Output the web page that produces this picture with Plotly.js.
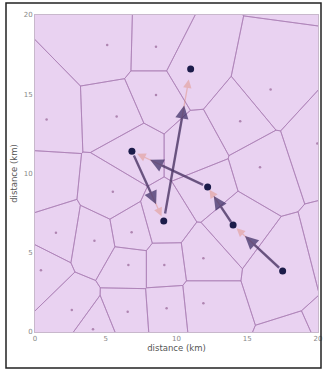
<!DOCTYPE html>
<html><head><meta charset="utf-8">
<script src="https://cdn.plot.ly/plotly-3.0.1.min.js"></script>
<style>html,body{margin:0;padding:0;background:#fff}#c{width:323px;height:370px}</style>
</head><body><div id="c"></div>
<script>
// Visible Voronoi seeds (small dots)
var seedX = [5.1, 8.55, 8.55, 5.77, 0.82, 16.65, 14.5, 19.95, 15.9, 5.5, 1.48, 4.2, 6.83, 0.42, 6.6, 9.14, 11.9, 2.6, 6.55, 9.3, 11.9, 4.1];
var seedY = [18.1, 18.0, 14.95, 13.6, 13.4, 15.3, 13.3, 11.9, 10.4, 8.85, 6.26, 5.76, 6.29, 3.9, 4.23, 4.23, 4.65, 1.39, 1.28, 1.5, 1.81, 0.17];
// Seeds hidden under arrows or outside the view
var hiddenX = [11.4, 0.6, 17.7, 21.5, 21.0, 19.0];
var hiddenY = [11.4, 9.4, 24.0, 5.0, -0.5, -1.5];
// Path (big dots), in travel order
var pathX = [17.5, 14.0, 12.2, 6.85, 9.1, 11.0];
var pathY = [3.85, 6.75, 9.15, 11.4, 7.0, 16.6];

var allX = seedX.concat(hiddenX, pathX);
var allY = seedY.concat(hiddenY, pathY);

function clip(poly, ax, ay, bx, by) {
  var mx = (ax + bx) / 2, my = (ay + by) / 2, nx = bx - ax, ny = by - ay;
  function side(p) { return (p[0] - mx) * nx + (p[1] - my) * ny; }
  var out = [];
  for (var i = 0; i < poly.length; i++) {
    var p = poly[i], q = poly[(i + 1) % poly.length];
    var sp = side(p), sq = side(q);
    if (sp <= 0) out.push(p);
    if ((sp < 0 && sq > 0) || (sp > 0 && sq < 0)) {
      var t = sp / (sp - sq);
      out.push([p[0] + t * (q[0] - p[0]), p[1] + t * (q[1] - p[1])]);
    }
  }
  return out;
}
var vx = [], vy = [];
for (var i = 0; i < allX.length; i++) {
  var poly = [[-3, -3], [23, -3], [23, 23], [-3, 23]];
  for (var j = 0; j < allX.length; j++) {
    if (i === j) continue;
    poly = clip(poly, allX[i], allY[i], allX[j], allY[j]);
    if (!poly.length) break;
  }
  for (var k = 0; k <= poly.length; k++) { var p = poly[k % poly.length]; vx.push(p[0]); vy.push(p[1]); }
  vx.push(null); vy.push(null);
}

var traces = [
  {x: vx, y: vy, mode: 'lines', type: 'scatter', line: {color: 'rgba(170,125,180,0.7)', width: 1}, hoverinfo: 'skip'},
  {x: seedX, y: seedY, mode: 'markers', type: 'scatter', marker: {color: 'rgba(150,100,150,0.7)', size: 2.5}},
  {x: pathX, y: pathY, mode: 'markers', type: 'scatter', marker: {color: '#1c1c4a', size: 7}}
];

var ann = [];
for (var s = 0; s < pathX.length - 1; s++) {
  var x0 = pathX[s], y0 = pathY[s], x1 = pathX[s + 1], y1 = pathY[s + 1];
  // faint full-length trail
  ann.push({x: x0 + 0.93 * (x1 - x0), y: y0 + 0.93 * (y1 - y0), ax: x0 + 0.06 * (x1 - x0), ay: y0 + 0.06 * (y1 - y0),
    xref: 'x', yref: 'y', axref: 'x', ayref: 'y', text: '', showarrow: true, arrowhead: 2, arrowsize: 1.3,
    arrowwidth: 1.3, arrowcolor: 'rgba(225,140,120,0.45)'});
  // main dark arrow
  ann.push({x: x0 + 0.76 * (x1 - x0), y: y0 + 0.76 * (y1 - y0), ax: x0 + 0.04 * (x1 - x0), ay: y0 + 0.04 * (y1 - y0),
    xref: 'x', yref: 'y', axref: 'x', ayref: 'y', text: '', showarrow: true, arrowhead: 2, arrowsize: 1.1,
    arrowwidth: 2.4, arrowcolor: 'rgba(60,45,100,0.72)'});
}

var axisCommon = {range: [0, 20], tickvals: [0, 5, 10, 15, 20], showgrid: false, zeroline: false,
  showline: true, linecolor: '#c8b8cc', linewidth: 1, ticks: '', tickfont: {size: 7, color: '#888', family: 'DejaVu Sans'},
  mirror: true};
var layout = {
  width: 323, height: 370, margin: {l: 35, r: 5, t: 15, b: 38},
  paper_bgcolor: '#fff', plot_bgcolor: '#e9d2f1', showlegend: false,
  xaxis: Object.assign({}, axisCommon, {title: {text: 'distance (km)', font: {size: 8.5, color: '#555', family: 'DejaVu Sans'}, standoff: 2}}),
  yaxis: Object.assign({}, axisCommon, {title: {text: 'distance (km)', font: {size: 8.5, color: '#555', family: 'DejaVu Sans'}, standoff: 4}}),
  annotations: ann,
  shapes: [{type: 'rect', xref: 'paper', yref: 'paper', x0: (6 - 35) / 283, x1: (321 - 35) / 283,
    y0: (332 - 368) / 317, y1: (332 - 3) / 317, line: {color: '#222', width: 1.5}}]
};
Plotly.newPlot('c', traces, layout, {staticPlot: true});
</script></body></html>
